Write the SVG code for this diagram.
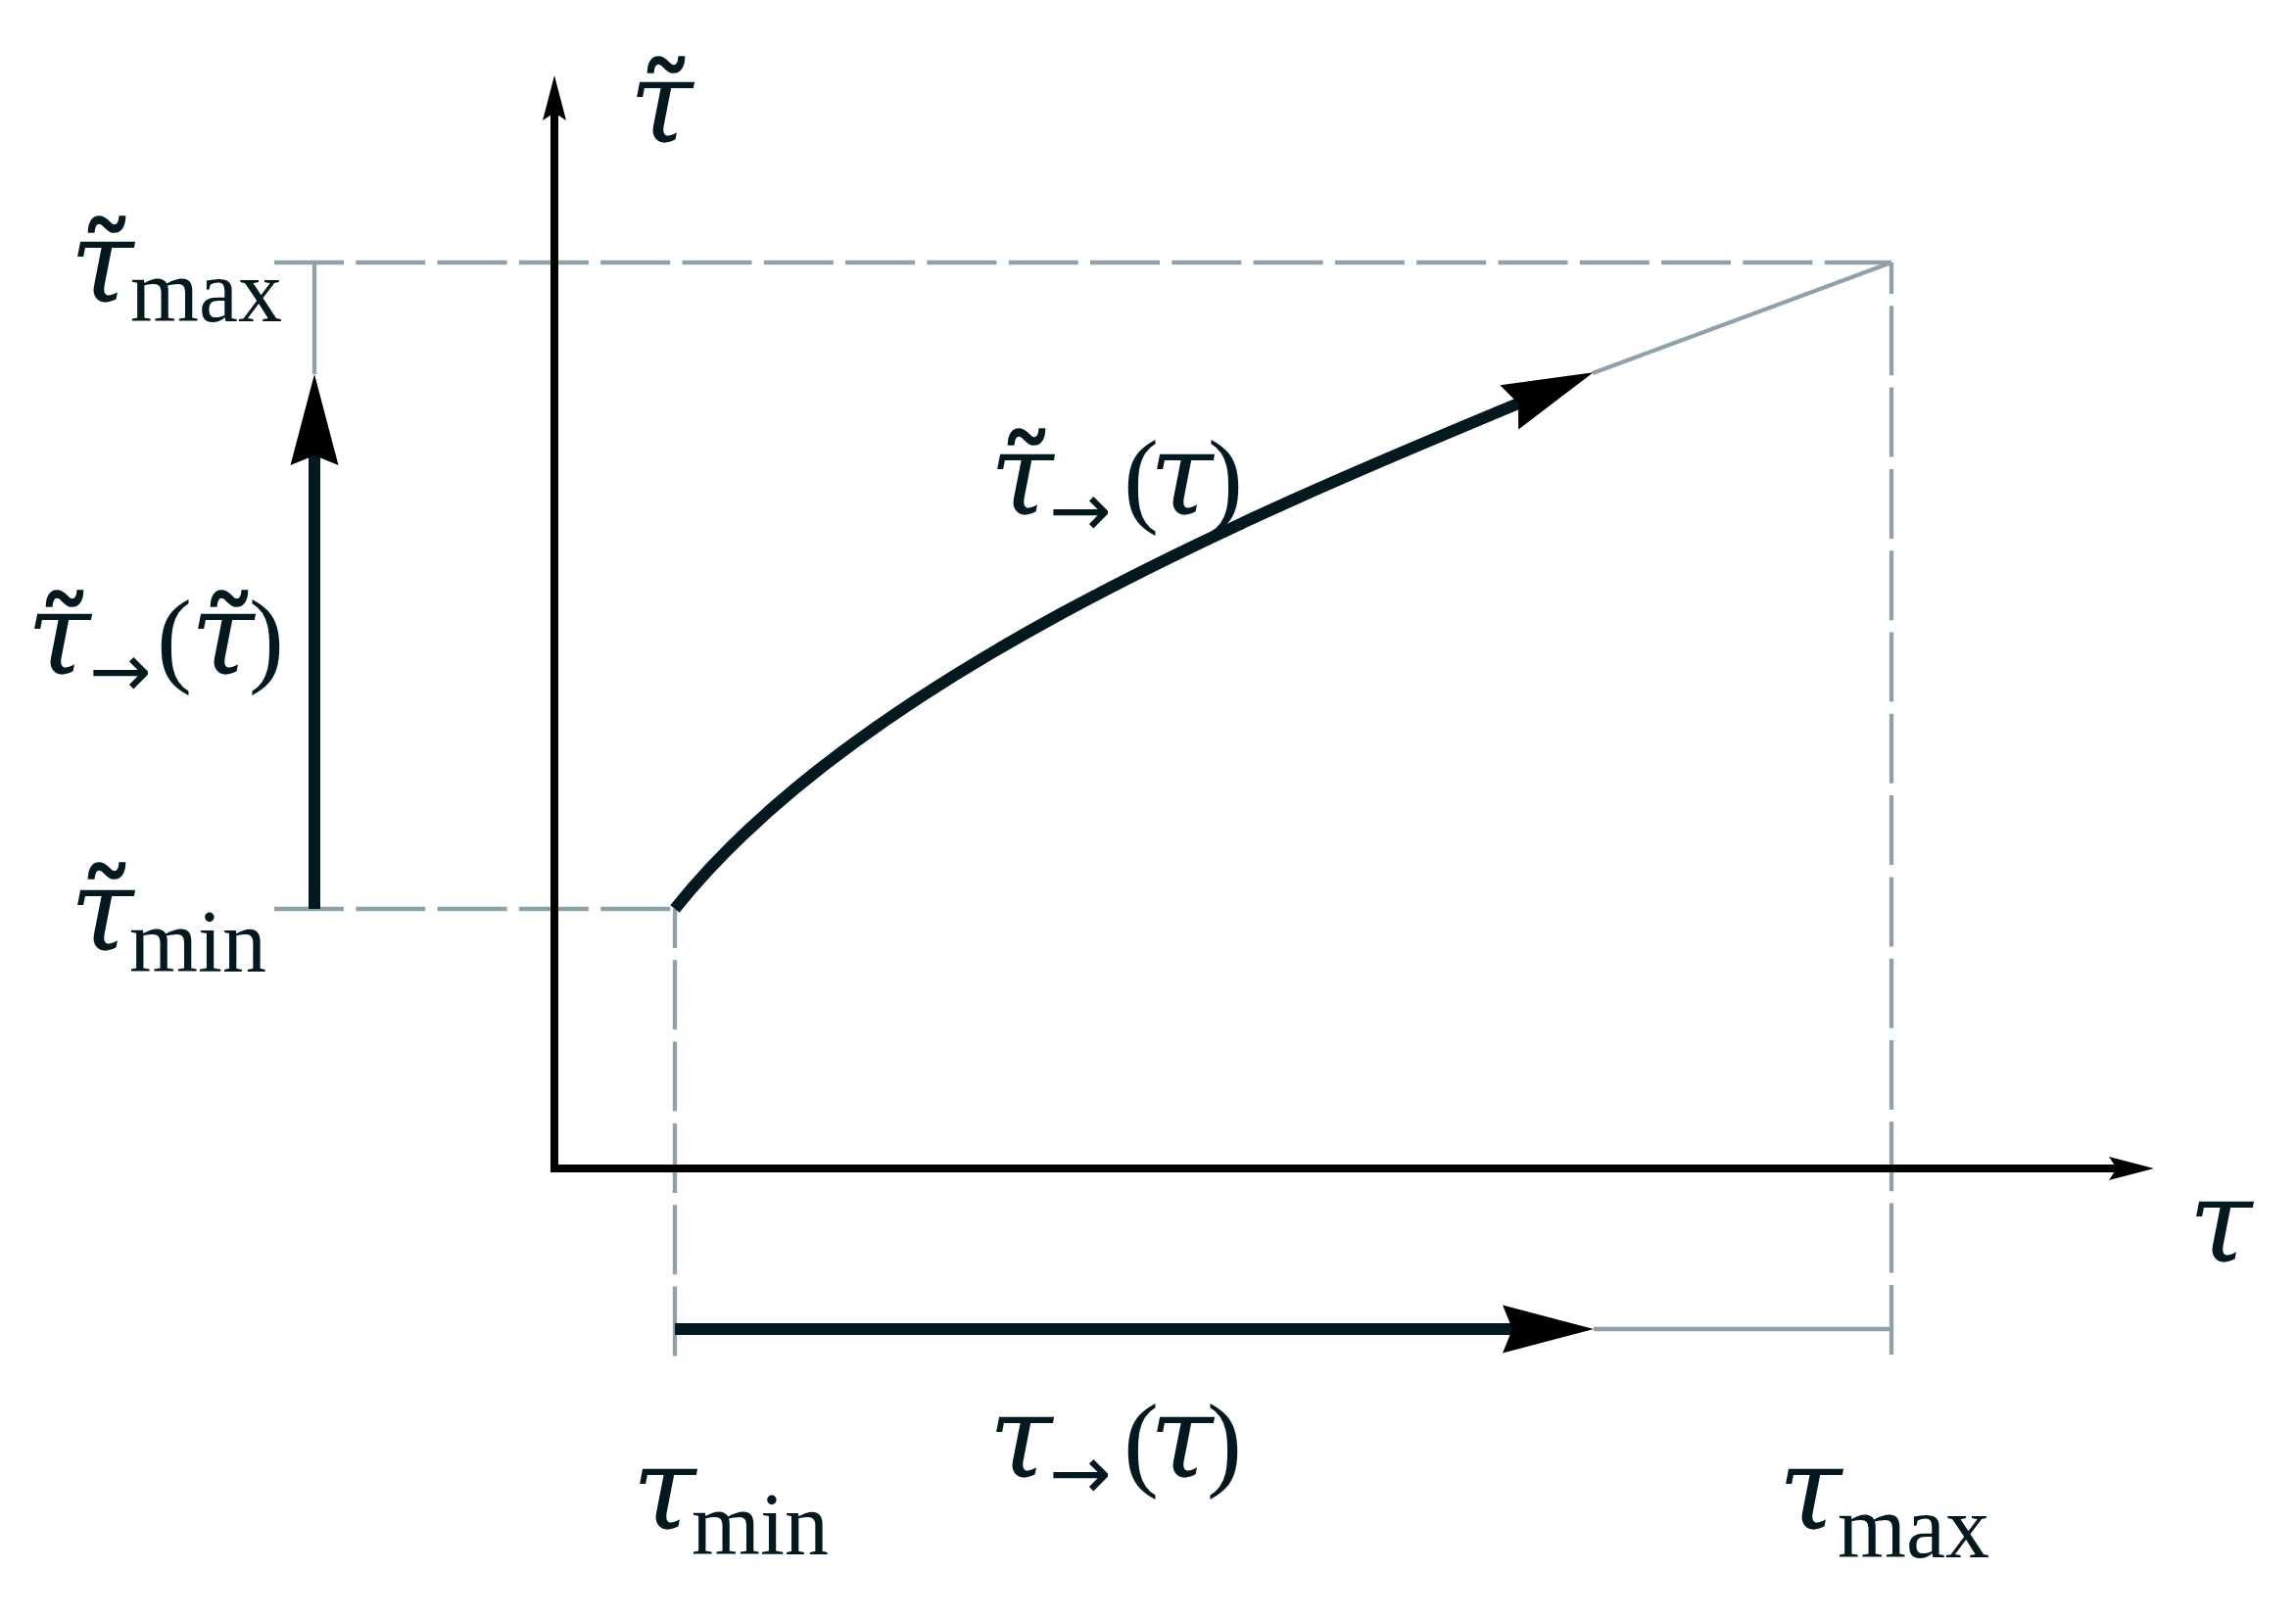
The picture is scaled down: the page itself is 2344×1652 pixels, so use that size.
<svg xmlns="http://www.w3.org/2000/svg" width="2344" height="1652" viewBox="0 0 2344 1652">
  <style>
    .it { font-family: "DejaVu Serif", "Liberation Serif", serif; font-style: italic; font-size: 118px; fill: #03191f; text-anchor: middle; }
    .til { font-family: "DejaVu Serif", "Liberation Serif", serif; font-size: 115px; fill: #03191f; stroke: #03191f; stroke-width: 1.5; text-anchor: middle; }
    .sub { font-family: "Liberation Serif", "DejaVu Serif", serif; font-size: 90px; fill: #03191f; }
    .par { font-family: "Liberation Serif", "DejaVu Serif", serif; font-size: 108px; fill: #03191f; }
    .arr { font-family: "DejaVu Sans", "Liberation Sans", sans-serif; font-size: 76px; fill: #03191f; }
    .axis { fill: none; stroke: #000; stroke-width: 8; }
    .thick { fill: none; stroke: #03191f; stroke-width: 12; }
    .guide { fill: none; stroke: #8fa2ac; stroke-width: 4.3; }
    .dash { fill: none; stroke: #8fa2ac; stroke-width: 4.3; stroke-dasharray: 71 12.3; }
  </style>
  <defs>
    <marker id="small" markerUnits="userSpaceOnUse" viewBox="-10 -14 52 28" markerWidth="52" markerHeight="28" refX="0" refY="0" orient="auto">
      <path d="M-8,-12 L38,0 L-8,12 L0,0 Z" fill="#000"/>
    </marker>
    <marker id="big" markerUnits="userSpaceOnUse" viewBox="-12 -27 98 54" markerWidth="98" markerHeight="54" refX="0" refY="0" orient="auto">
      <path d="M-10,-24.5 L83,0 L-10,24.5 L0,0 Z" fill="#000"/>
    </marker>
  </defs>

  <g id="connectors">
    <path class="dash" d="M280,268 H1931"/>
    <path class="dash" d="M280,928 H689"/>
    <path class="dash" style="stroke-dashoffset:31" d="M689,928 V1386"/>
    <path class="dash" style="stroke-dashoffset:39" d="M1931,268 V1384"/>
    <path class="guide" d="M321,382 V268"/>
    <path class="guide" d="M1627,1357 H1931"/>
    <path class="guide" d="M1626,381 L1931,268"/>
    <path class="axis" d="M566,1193 V115" marker-end="url(#small)"/>
    <path class="axis" d="M562,1193 H2161" marker-end="url(#small)"/>
    <path class="thick" d="M321,928 V465" marker-end="url(#big)"/>
    <path class="thick" d="M689,1357 H1544" marker-end="url(#big)"/>
    <path class="thick" d="M689,928 C875,694 1273,527 1550,412" marker-end="url(#big)"/>
  </g>

  <g id="label-yaxis">
    <text class="it" x="675" y="145">τ</text>
    <text class="til" x="680" y="147">˜</text>
  </g>
  <g id="label-tilde-max">
    <text class="it" x="104" y="308">τ</text>
    <text class="til" x="109" y="310">˜</text>
    <text class="sub" x="133" y="328">max</text>
  </g>
  <g id="label-tilde-min">
    <text class="it" x="104" y="970">τ</text>
    <text class="til" x="109" y="970">˜</text>
    <text class="sub" x="132" y="992">min</text>
  </g>
  <g id="label-left-map">
    <text class="it" x="60" y="688">τ</text>
    <text class="til" x="66" y="692">˜</text>
    <text class="arr" x="91" y="711">→</text>
    <text class="par" x="160" y="687">(</text>
    <text class="it" x="227" y="688">τ</text>
    <text class="til" x="234" y="692">˜</text>
    <text class="par" x="254" y="687">)</text>
  </g>
  <g id="label-curve">
    <text class="it" x="1043" y="525">τ</text>
    <text class="til" x="1048" y="527">˜</text>
    <text class="arr" x="1071" y="547">→</text>
    <text class="par" x="1147" y="524">(</text>
    <text class="it" x="1206" y="525">τ</text>
    <text class="par" x="1233" y="524">)</text>
  </g>
  <g id="label-bottom-map">
    <text class="it" x="1042" y="1508">τ</text>
    <text class="arr" x="1071" y="1530">→</text>
    <text class="par" x="1147" y="1508">(</text>
    <text class="it" x="1206" y="1508">τ</text>
    <text class="par" x="1232" y="1508">)</text>
  </g>
  <g id="label-min">
    <text class="it" x="678" y="1561">τ</text>
    <text class="sub" x="706" y="1587">min</text>
  </g>
  <g id="label-max">
    <text class="it" x="1848" y="1561">τ</text>
    <text class="sub" x="1876" y="1590">max</text>
  </g>
  <g id="label-xaxis">
    <text class="it" x="2267" y="1288">τ</text>
  </g>
</svg>
